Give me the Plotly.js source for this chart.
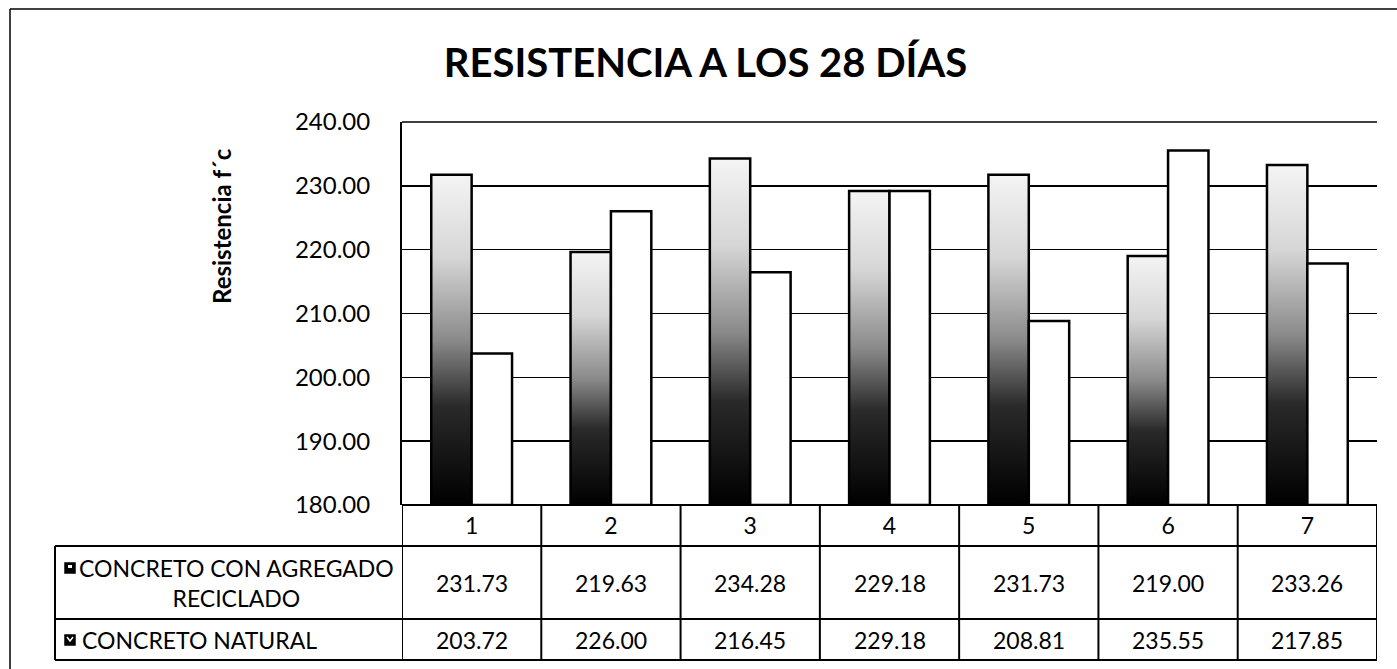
<!DOCTYPE html>
<html>
<head>
<meta charset="utf-8">
<script src="https://cdn.plot.ly/plotly-3.0.1.min.js"></script>
<style>
  html, body { margin: 0; padding: 0; background: #fff; }
  #chart { width: 1397px; height: 669px; }
</style>
</head>
<body>
<div id="chart"></div>
<script>
// ---- data ----
const categories = ['1', '2', '3', '4', '5', '6', '7'];
const reciclado = [231.73, 219.63, 234.28, 229.18, 231.73, 219.00, 233.26];
const natural = [203.72, 226.00, 216.45, 229.18, 208.81, 235.55, 217.85];
const seriesNames = ['CONCRETO CON AGREGADO<br>RECICLADO', 'CONCRETO NATURAL'];
const yTickVals = [180, 190, 200, 210, 220, 230, 240];
const yMin = 180, yMax = 240;
const chartTitle = 'RESISTENCIA A LOS 28 DÍAS';
const yTitle = 'Resistencia f´c';

// ---- layout helpers (pixel geometry of the page) ----
const W = 1397, H = 669;
const mL = 402, mR = 20, mT = 122, mB = 164;
const pw = W - mL - mR, ph = H - mT - mB;
const px = x => (x - mL) / pw;          // page x -> paper x
const py = y => (H - mB - y) / ph;      // page y -> paper y

const FONT = 'Lato, "Open Sans", sans-serif';
const LW = 2;

const traces = [
  {
    type: 'bar', x: categories, y: reciclado.map(v => v - yMin), base: yMin, name: 'rec',
    marker: { color: '#888', line: { color: '#000', width: 2.5 } },
    hoverinfo: 'none'
  },
  {
    type: 'bar', x: categories, y: natural.map(v => v - yMin), base: yMin, name: 'nat',
    marker: { color: '#fff', line: { color: '#000', width: 2.5 } },
    hoverinfo: 'none'
  }
];

// table geometry (page px)
const rowCat = 546, rowS1 = 619, rowS2 = 660;
const colLeft = 55;

const shapes = [];
function line(xref, x0, x1, yref, y0, y1, w) {
  shapes.push({ type: 'line', xref, yref, x0, x1, y0, y1, layer: 'above', line: { color: '#000', width: w || LW } });
}
// top gridline (edge of plot)
shapes.push({ type: 'line', xref: 'paper', yref: 'paper', x0: 0, x1: 1, y0: 1, y1: 1, layer: 'below', line: { color: '#000', width: 1.6 } });
// horizontal table lines
line('paper', 0, 1, 'paper', 0, 0);
[rowCat, rowS1, rowS2].forEach(y => line('paper', px(colLeft), 1, 'paper', py(y), py(y)));
// vertical lines at category boundaries
for (let i = 0; i <= categories.length; i++) {
  line('x', i - 0.5, i - 0.5, 'paper', 0, py(rowS2));
}
// left column line
line('paper', px(colLeft), px(colLeft), 'paper', py(rowCat), py(rowS2));
// outer frame (top & left)
line('paper', px(10), px(W), 'paper', py(9), py(9), 1.5);
line('paper', px(10), px(10), 'paper', py(9), py(H), 1.5);

// legend keys
function key(xc, yc, fill) {
  shapes.push({ type: 'rect', xref: 'paper', yref: 'paper',
    x0: px(xc - 5), x1: px(xc + 5), y0: py(yc + 5), y1: py(yc - 5),
    fillcolor: fill, line: { color: '#000', width: 1.5 } });
}
key(70, 568, '#000');
key(70, 640, '#000');
shapes.push({ type: 'path', xref: 'paper', yref: 'paper',
  path: `M ${px(67)} ${py(637)} L ${px(70)} ${py(641)} L ${px(73)} ${py(637)}`,
  line: { color: '#fff', width: 1.5 } });
shapes.push({ type: 'rect', xref: 'paper', yref: 'paper',
  x0: px(68), x1: px(72), y0: py(568), y1: py(565),
  fillcolor: '#fff', line: { width: 0 } });

const annotations = [];
// values
const rowCenters = [py((rowCat + rowS1) / 2), py((rowS1 + rowS2) / 2)];
[reciclado, natural].forEach((vals, s) => {
  vals.forEach((v, i) => {
    annotations.push({ xref: 'x', yref: 'paper', x: i, y: rowCenters[s],
      text: v.toFixed(2), showarrow: false, font: { family: FONT, size: 23, color: '#000' },
      xanchor: 'center', yanchor: 'middle' });
  });
});
// series names
annotations.push({ xref: 'paper', yref: 'paper', x: px(236), y: rowCenters[0],
  text: seriesNames[0], showarrow: false, align: 'center',
  font: { family: FONT, size: 23, color: '#000' }, xanchor: 'center', yanchor: 'middle' });
annotations.push({ xref: 'paper', yref: 'paper', x: px(80), y: rowCenters[1],
  text: seriesNames[1], showarrow: false, align: 'left',
  font: { family: FONT, size: 23, color: '#000' }, xanchor: 'left', yanchor: 'middle' });
// y title
annotations.push({ xref: 'paper', yref: 'paper', x: px(221), y: py(226),
  text: '<b>' + yTitle + '</b>', showarrow: false, textangle: -90,
  font: { family: FONT, size: 24, color: '#000' }, xanchor: 'center', yanchor: 'middle' });

const layout = {
  width: W, height: H,
  margin: { l: mL, r: mR, t: mT, b: mB, pad: 0 },
  paper_bgcolor: '#fff', plot_bgcolor: '#fff',
  showlegend: false,
  barmode: 'group', bargap: 0.42, bargroupgap: 0,
  title: { text: '<b>' + chartTitle + '</b>', x: 0.505, xanchor: 'center',
    yref: 'container', y: 1 - 63 / H, yanchor: 'middle',
    font: { family: FONT, size: 40, color: '#000' } },
  xaxis: {
    type: 'category', range: [-0.5, categories.length - 0.5],
    showgrid: false, showline: false, zeroline: false, ticks: '',
    ticklabelstandoff: 5,
    tickfont: { family: FONT, size: 23, color: '#000' }, fixedrange: true
  },
  yaxis: {
    range: [yMin, yMax], tickvals: yTickVals, tickformat: '.2f',
    showgrid: true, gridcolor: '#000', gridwidth: 1.6,
    showline: true, linecolor: '#000', linewidth: LW,
    zeroline: false, ticks: '', ticklabelstandoff: 25,
    tickfont: { family: FONT, size: 24, color: '#000' }, fixedrange: true
  },
  shapes, annotations
};

Plotly.newPlot('chart', traces, layout, { staticPlot: true, displayModeBar: false }).then(gd => {
  const svg = gd.querySelector('.main-svg');
  let defs = svg.querySelector('defs');
  const NS = 'http://www.w3.org/2000/svg';
  if (!defs) { defs = document.createElementNS(NS, 'defs'); svg.insertBefore(defs, svg.firstChild); }
  const g = document.createElementNS(NS, 'linearGradient');
  g.setAttribute('id', 'gradRec');
  g.setAttribute('x1', '0'); g.setAttribute('y1', '0');
  g.setAttribute('x2', '0'); g.setAttribute('y2', '1');
  [['0', '#f4f4f4'], ['0.25', '#d6d6d6'], ['0.5', '#8a8a8a'], ['0.7', '#2a2a2a'], ['1', '#000']].forEach(([o, c]) => {
    const s = document.createElementNS(NS, 'stop');
    s.setAttribute('offset', o); s.setAttribute('stop-color', c);
    g.appendChild(s);
  });
  defs.appendChild(g);
  const tr = gd.querySelectorAll('.barlayer .trace');
  if (tr[0]) tr[0].querySelectorAll('path').forEach(p => { p.style.fill = 'url(#gradRec)'; });
});
</script>
</body>
</html>
